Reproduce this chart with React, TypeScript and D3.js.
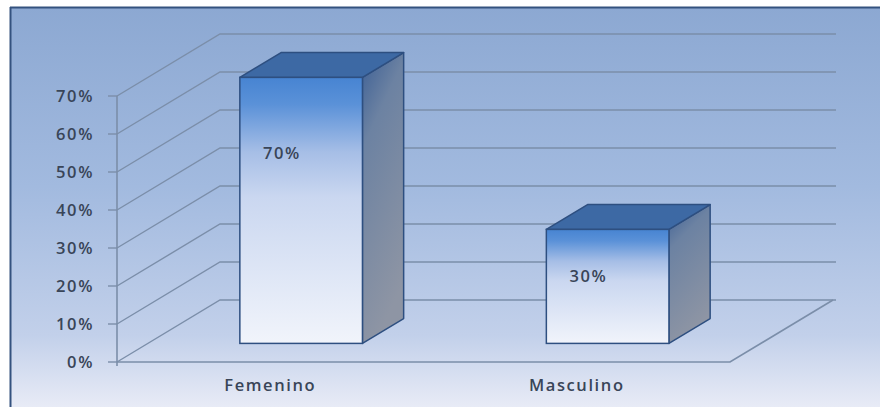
import React from "react";
import * as d3 from "d3";

const categories = ["Femenino", "Masculino"];
const values = [0.7, 0.3];
const valueLabels = ["70%", "30%"];
const tickValues = [0, 0.1, 0.2, 0.3, 0.4, 0.5, 0.6, 0.7];

const W = 880;
const H = 407;
const FX0 = 117;
const FX1 = 730;
const Y0 = 362;
const DX = 103;
const DY = -62;
const D0 = 0.3;
const D1 = 0.7;

export default function App() {
  const y = d3.scaleLinear().domain([0, 0.7]).range([Y0, 96]);
  const x = d3
    .scaleBand<string>()
    .domain(categories)
    .range([FX0, FX1])
    .paddingInner(0.6)
    .paddingOuter(0.3);
  const fmt = d3.format(".0%");
  const grid = "#7b8ea9";
  const font = "'Open Sans', Lato, sans-serif";
  const txt = "#394558";
  const fs = 16.5;
  const ls = 1.6;

  return (
    <svg width={W} height={H} style={{ position: "absolute", left: 0, top: 0 }}>
      <defs>
        <linearGradient id="bg" x1="0" y1="0" x2="0" y2="1">
          <stop offset="0" stopColor="#8ca8d2" />
          <stop offset="0.45" stopColor="#a2badf" />
          <stop offset="0.82" stopColor="#c2d0ea" />
          <stop offset="1" stopColor="#e8ebf6" />
        </linearGradient>
        <linearGradient id="front" x1="0" y1="0" x2="0" y2="1">
          <stop offset="0" stopColor="#4784d2" />
          <stop offset="0.1" stopColor="#5a91d8" />
          <stop offset="0.28" stopColor="#a6bee6" />
          <stop offset="0.45" stopColor="#cad7f0" />
          <stop offset="1" stopColor="#f1f4fb" />
        </linearGradient>
        <linearGradient id="side" x1="0" y1="0" x2="0.3" y2="1">
          <stop offset="0" stopColor="#3c5f95" />
          <stop offset="0.3" stopColor="#6c82a2" />
          <stop offset="1" stopColor="#8e95a4" />
        </linearGradient>
      </defs>
      <rect x={0} y={0} width={W} height={H} fill="#ffffff" />
      <rect x={10} y={7} width={W - 10} height={H - 7} fill="url(#bg)" />
      <line x1={10} y1={7.5} x2={W} y2={7.5} stroke="#34527f" strokeWidth={2} />
      <line x1={10.5} y1={7} x2={10.5} y2={H} stroke="#34527f" strokeWidth={2} />

      {tickValues.map((t) => (
        <g key={t}>
          <polyline
            points={`${FX0},${y(t)} ${FX0 + DX},${y(t) + DY} ${FX1 + DX + 3},${y(t) + DY}`}
            fill="none"
            stroke={grid}
            strokeWidth={1.4}
          />
          <line x1={FX0 - 9} x2={FX0} y1={y(t)} y2={y(t)} stroke={grid} strokeWidth={1.4} />
          <text
            x={FX0 - 23}
            y={y(t)}
            dy="0.35em"
            textAnchor="end"
            fontFamily={font}
            fontSize={fs}
            fontWeight={600}
            letterSpacing={ls}
            fill={txt}
          >
            {fmt(t)}
          </text>
        </g>
      ))}
      <polyline
        points={`${FX0},${Y0} ${FX1},${Y0} ${FX1 + DX},${Y0 + DY}`}
        fill="none"
        stroke={grid}
        strokeWidth={1.6}
      />
      <line x1={FX0} x2={FX0} y1={y(0.7)} y2={Y0 + 4} stroke={grid} strokeWidth={1.6} />

      {categories.map((c, i) => {
        const bx0 = (x(c) as number) + D0 * DX;
        const bw = x.bandwidth();
        const bx1 = bx0 + bw;
        const yb = Y0 + D0 * DY;
        const yt = y(values[i]) + D0 * DY;
        const ddx = (D1 - D0) * DX;
        const ddy = (D1 - D0) * DY;
        const h = yb - yt;
        const edge = "#2e4f80";
        return (
          <g key={c}>
            <polygon
              points={`${bx1},${yt} ${bx1 + ddx},${yt + ddy} ${bx1 + ddx},${yb + ddy} ${bx1},${yb}`}
              fill="url(#side)"
              stroke={edge}
              strokeWidth={1.5}
              strokeLinejoin="round"
            />
            <polygon
              points={`${bx0},${yt} ${bx1},${yt} ${bx1 + ddx},${yt + ddy} ${bx0 + ddx},${yt + ddy}`}
              fill="#3d69a4"
              stroke={edge}
              strokeWidth={1.5}
              strokeLinejoin="round"
            />
            <rect
              x={bx0}
              y={yt}
              width={bw}
              height={h}
              fill="url(#front)"
              stroke={edge}
              strokeWidth={1.5}
            />
            <text
              x={bx0 + 42}
              y={yt + 25 + 0.19 * h}
              dy="0.35em"
              textAnchor="middle"
              fontFamily={font}
              fontSize={fs}
              fontWeight={600}
              letterSpacing={ls}
              fill={txt}
            >
              {valueLabels[i]}
            </text>
            <text
              x={(x(c) as number) + bw / 2}
              y={385}
              dy="0.35em"
              textAnchor="middle"
              fontFamily={font}
              fontSize={fs}
              fontWeight={600}
              letterSpacing={ls}
              fill={txt}
            >
              {c}
            </text>
          </g>
        );
      })}
    </svg>
  );
}
